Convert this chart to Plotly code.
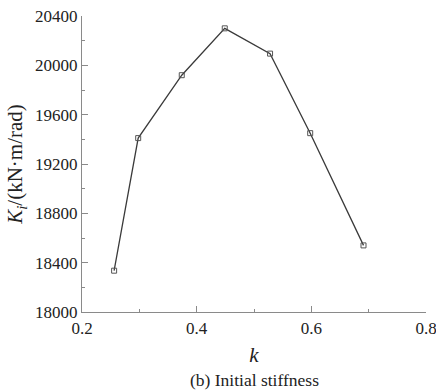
import plotly.graph_objects as go

k_values = [0.256, 0.298, 0.374, 0.449, 0.528, 0.598, 0.691]
ki_values = [18335, 19410, 19920, 20300, 20095, 19450, 18540]

x_ticks = [0.2, 0.4, 0.6, 0.8]
y_ticks = [18000, 18400, 18800, 19200, 19600, 20000, 20400]

font_family = "Times New Roman, Liberation Serif, DejaVu Serif, serif"
axis_color = "#8a8a8a"

fig = go.Figure()
fig.add_trace(go.Scatter(
    x=k_values, y=ki_values, mode="lines+markers",
    line=dict(color="#3a3a3a", width=1.3),
    marker=dict(symbol="square-open", size=5, color="#555555", line=dict(width=1)),
    showlegend=False,
))

fig.update_layout(
    width=436, height=392,
    margin=dict(l=82, r=10, t=16, b=80, autoexpand=False),
    paper_bgcolor="white", plot_bgcolor="white",
    font=dict(family=font_family, size=14, color="#222222"),
    xaxis=dict(
        range=[0.2, 0.8], tickvals=x_ticks, ticktext=[f"{v:.1f}" for v in x_ticks],
        showline=True, linecolor=axis_color, linewidth=1.2,
        ticks="inside", ticklen=6, tickcolor=axis_color,
        minor=dict(dtick=0.1, ticks="inside", ticklen=3, tickcolor=axis_color),
        showgrid=False, zeroline=False, automargin=False,
        ticklabeloverflow="allow",
        title=dict(text="<i>k</i>", font=dict(size=21, family=font_family), standoff=10),
        tickfont=dict(size=17, family=font_family),
    ),
    yaxis=dict(
        range=[18000, 20400], tickvals=y_ticks, ticktext=[str(v) for v in y_ticks],
        showline=True, linecolor=axis_color, linewidth=1.2,
        ticks="inside", ticklen=6, tickcolor=axis_color,
        minor=dict(dtick=200, ticks="inside", ticklen=3, tickcolor=axis_color),
        showgrid=False, zeroline=False, automargin=False,
        ticklabeloverflow="allow",
        title=dict(text="<i>K</i><sub><i>i</i></sub>/(kN·m/rad)", font=dict(size=21, family=font_family), standoff=6),
        tickfont=dict(size=17, family=font_family),
    ),
    annotations=[dict(
        text="(b) Initial stiffness", xref="paper", yref="paper",
        x=0.5, y=-0.23, xanchor="center", yanchor="middle", showarrow=False,
        font=dict(size=17.5, family=font_family, color="#222222"),
    )],
)

fig.write_html("out.html")
